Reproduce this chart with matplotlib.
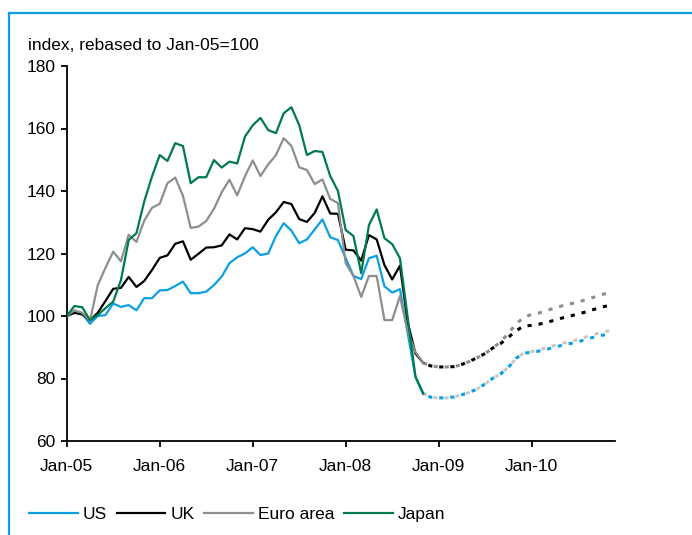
import matplotlib
matplotlib.use("Agg")
import matplotlib.pyplot as plt
from matplotlib.lines import Line2D
import numpy as np

plt.rcParams['font.family'] = ['Liberation Sans', 'DejaVu Sans']
plt.rcParams['lines.scale_dashes'] = False

# Monthly index values, Jan-05 = 100 (Jan-05 .. Nov-08)
us = [100, 101.5, 100.8, 97.5, 100, 100.3, 104, 102.9, 103.5, 101.8, 105.7, 105.7,
      108.2, 108.3, 109.6, 111, 107.3, 107.3, 107.8, 109.9, 112.6, 116.9, 118.8, 120,
      122, 119.5, 120, 125.6, 129.7, 127.3, 123.3, 124.5, 127.7, 130.9, 125.2, 124.3,
      118.5, 112.8, 111.8, 118.5, 119.3, 109.5, 107.5, 108.6, 94.5, 80.5, 75]
uk = [100, 101, 100.5, 98.6, 101, 104.8, 108.7, 109, 112.5, 109.3, 111.2, 114.7,
      118.6, 119.4, 123.1, 123.9, 118, 119.9, 121.9, 122, 122.6, 126.1, 124.5, 128.1,
      127.8, 127, 130.8, 133.2, 136.5, 135.8, 131, 130.1, 133, 138.3, 132.8, 132.7,
      121.2, 121, 117.7, 125.9, 124.5, 116.3, 111.7, 116.1, 98, 88, 85]
euro = [100, 101.8, 101, 98.5, 109.8, 115.4, 120.6, 117.5, 126, 123.7, 130.5, 134.6,
        135.9, 142.5, 144.3, 138.5, 128.2, 128.6, 130.4, 134.3, 139.6, 143.6, 138.6, 144.7,
        149.8, 144.8, 148.5, 151.5, 156.9, 154.4, 147.6, 146.7, 142.2, 143.7, 137.5, 136.1,
        116.9, 112.8, 106.1, 112.8, 112.8, 98.7, 98.7, 106.4, 95, 88.5, 85]
japan = [100, 103.2, 102.8, 98.7, 100.3, 102.5, 104.6, 111.5, 124.3, 126.5, 136.6, 144.6,
         151.5, 149.6, 155.3, 154.4, 142.5, 144.4, 144.4, 149.9, 147.5, 149.4, 148.8, 157.4,
         161, 163.4, 159.5, 158.5, 164.9, 166.8, 161.1, 151.5, 152.8, 152.5, 144.8, 140,
         127.5, 125.6, 113.7, 129.1, 134.1, 124.9, 123, 118.5, 99.5, 80.6, 75.3]

# Projections, Nov-08 .. Nov-10
us_proj = [75, 74, 73.8, 73.8, 74.1, 74.8, 75.6, 76.7, 78.3, 80.1, 81.5, 83.6, 86.5,
           88.1, 88.4, 88.8, 89.4, 90, 90.7, 91.2, 91.7, 92.6, 93.2, 93.8, 94.2]
uk_proj = [85, 84, 83.7, 83.7, 83.8, 84.5, 85.5, 86.7, 88, 89.8, 91.2, 93.2, 95.3,
           96.8, 97, 97.4, 98, 98.7, 99.4, 100, 100.7, 101.3, 102.1, 102.8, 103.4]
euro_proj = [85, 84, 83.7, 83.7, 83.8, 84.5, 85.5, 86.7, 88, 89.8, 91.8, 94.5, 97.5,
             99.6, 100.5, 101, 101.8, 102.6, 103.3, 103.9, 104.5, 105.2, 106, 106.8, 107.5]
japan_proj = [75.3, 74, 73.8, 73.8, 74.1, 74.8, 75.6, 76.7, 78.3, 80.1, 81.5, 83.6, 86.5,
              88.1, 88.6, 89.2, 89.9, 90.6, 91.3, 91.9, 92.5, 93.3, 94.1, 94.7, 95.3]

tick_labels = ["Jan-05", "Jan-06", "Jan-07", "Jan-08", "Jan-09", "Jan-10"]

c_us = "#0aa0e2"
c_uk = "#000000"
c_euro = "#8c8f8e"
c_japan = "#007a4e"
c_japan_proj = "#c9c9c9"

W, H = 692, 535
fig = plt.figure(figsize=(W / 100, H / 100), dpi=100)
ax = fig.add_axes([66.7 / W, 1 - 441 / H, (615 - 66.7) / W, (441 - 66) / H])

m_hist = np.arange(len(us))
m_proj = np.arange(len(us) - 1, len(us) - 1 + len(us_proj))

lw = 1.6
ax.plot(m_hist, us, color=c_us, lw=lw, zorder=3)
ax.plot(m_hist, uk, color=c_uk, lw=lw, zorder=3)
ax.plot(m_hist, euro, color=c_euro, lw=lw, zorder=3)
ax.plot(m_hist, japan, color=c_japan, lw=lw, zorder=3)

# forecast paths: paired dashed lines with staggered dash phases
ax.plot(m_proj, euro_proj, color=c_euro, lw=2.2, dashes=(3, 5), zorder=2)
ax.plot(m_proj, uk_proj, color=c_uk, lw=2.2, dashes=(0, 4, 3, 1), zorder=2)
ax.plot(m_proj, japan_proj, color=c_japan_proj, lw=2.2, dashes=(3, 5), zorder=2)
ax.plot(m_proj, us_proj, color=c_us, lw=2.2, dashes=(0, 4, 3, 1), zorder=2)

ax.set_xlim(0, 70.75)
ax.set_ylim(60, 180)
ax.set_yticks(np.arange(60, 181, 20))
ax.set_xticks(np.arange(0, 12 * len(tick_labels), 12))
ax.set_xticklabels(tick_labels)

for s in ("top", "right"):
    ax.spines[s].set_visible(False)
for s in ("left", "bottom"):
    ax.spines[s].set_linewidth(1.3)
ax.tick_params(axis="both", direction="out", length=4, width=1.3, labelsize=12.5)
ax.tick_params(axis="y", pad=4)
ax.tick_params(axis="x", pad=9)

fig.text(28 / W, 1 - 45 / H, "index, rebased to Jan-05=100", fontsize=12.5,
         ha="left", va="center")

# blue frame along top and left edges
frame_c = "#0aa0e2"
fig.add_artist(Line2D([9 / W, 9 / W], [0, 1 - 13 / H], color=frame_c, lw=1.6,
                      transform=fig.transFigure))
fig.add_artist(Line2D([9 / W, 1], [1 - 13 / H, 1 - 13 / H], color=frame_c, lw=1.6,
                      transform=fig.transFigure))

handles = [Line2D([], [], color=c, lw=1.6) for c in (c_us, c_uk, c_euro, c_japan)]
fig.legend(handles, ["US", "UK", "Euro area", "Japan"], ncol=4, frameon=False,
           loc="center left", bbox_to_anchor=(29 / W, 1 - 514 / H), fontsize=12.5,
           borderpad=0, borderaxespad=0,
           handlelength=2.8, handletextpad=0.3, columnspacing=0.55)

fig.savefig("out.png", dpi=100)
